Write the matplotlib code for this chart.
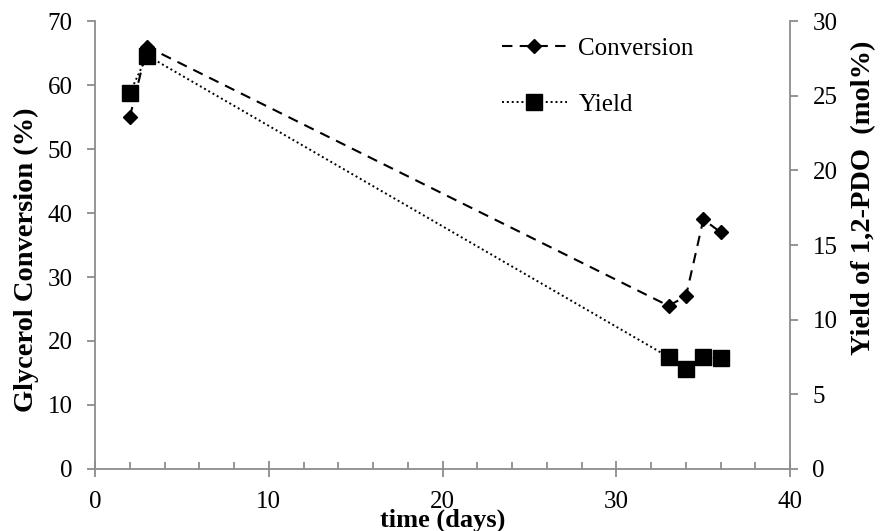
import matplotlib.pyplot as plt
from matplotlib.ticker import MultipleLocator
from matplotlib.lines import Line2D

plt.rcParams["font.family"] = ["Liberation Serif", "DejaVu Serif"]

days = [2, 3, 33, 34, 35, 36]
conversion = [55.0, 66.0, 25.5, 27.0, 39.0, 37.0]
yield_pdo = [25.2, 27.7, 7.5, 6.7, 7.5, 7.4]

AXIS_GREY = "#8c8c8c"
TICK_SIZE = 18

fig = plt.figure(figsize=(8.8, 5.31), dpi=100)
ax = fig.add_axes([0.108, 0.117, 0.79, 0.843])
ax2 = ax.twinx()

conv_style = dict(color="black", linestyle=(0, (5, 3.5)), linewidth=1.5, marker="D", markersize=7.5)
yield_style = dict(color="black", linestyle=(0, (1, 1.5)), linewidth=1.4, marker="s", markersize=11)

ax.plot(days, conversion, **conv_style)
ax2.plot(days, yield_pdo, **yield_style)

ax.set_xlim(0, 40)
ax.set_ylim(0, 70)
ax2.set_ylim(0, 30)
ax.xaxis.set_major_locator(MultipleLocator(10))
ax.xaxis.set_minor_locator(MultipleLocator(2))
ax.yaxis.set_major_locator(MultipleLocator(10))
ax2.yaxis.set_major_locator(MultipleLocator(5))

for a in (ax, ax2):
    for side in a.spines.values():
        side.set_color(AXIS_GREY)
        side.set_linewidth(1.3)
    a.spines["top"].set_visible(False)
ax.spines["right"].set_visible(False)
ax2.spines["left"].set_visible(False)
ax2.spines["bottom"].set_visible(False)

ax.tick_params(axis="x", which="major", direction="inout", length=12, width=1.3,
               color=AXIS_GREY, labelsize=TICK_SIZE, pad=10)
ax.tick_params(axis="x", which="minor", direction="in", length=5, width=1.3, color=AXIS_GREY)
ax.tick_params(axis="y", direction="out", length=6, width=1.3, color=AXIS_GREY,
               labelsize=TICK_SIZE, pad=10)
ax2.tick_params(axis="y", direction="out", length=6, width=1.3, color=AXIS_GREY,
                labelsize=TICK_SIZE, pad=10)

# the x title sits tight under the tick labels (it touches "20" in the original)
ax.set_xlabel("time (days)", fontsize=19, fontweight="bold", labelpad=-3.5)
ax.set_ylabel("Glycerol Conversion (%)", fontsize=20.5, fontweight="bold")
ax2.set_ylabel("Yield of 1,2-PDO  (mol%)", fontsize=20.5, fontweight="bold")
ax.yaxis.set_label_coords(-0.081, 0.468)
ax2.yaxis.set_label_coords(1.088, 0.605)

handles = [Line2D([], [], **conv_style), Line2D([], [], **yield_style)]
ax.legend(handles, ["Conversion", "Yield"], loc="upper left", bbox_to_anchor=(0.553, 1.014),
          frameon=False, fontsize=TICK_SIZE, handlelength=2.6, handletextpad=0.45,
          labelspacing=1.35)

fig.savefig("out.png", dpi=100)
